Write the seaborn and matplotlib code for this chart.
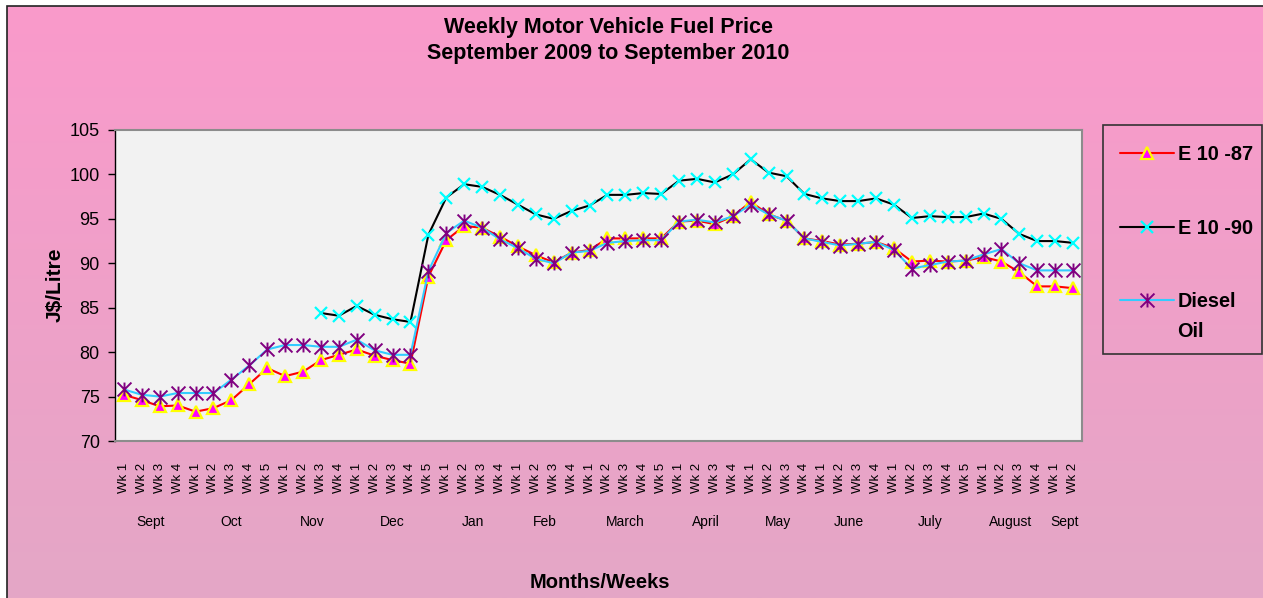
import numpy as np
import pandas as pd
import matplotlib
matplotlib.use("Agg")
import matplotlib.pyplot as plt
import matplotlib.transforms as mtrans
from matplotlib.path import Path
from matplotlib.patches import Rectangle
import seaborn as sns

# months and number of weeks shown for each
months = ["Sept", "Oct", "Nov", "Dec", "Jan", "Feb", "March", "April",
          "May", "June", "July", "August", "Sept"]
weeks_per_month = [4, 5, 4, 5, 4, 4, 5, 4, 4, 4, 5, 4, 2]

# prices in J$/Litre
e10_87 = [75.2, 74.6, 73.9, 74.0, 73.3, 73.7, 74.6, 76.4, 78.2, 77.3, 77.8, 79.1,
          79.7, 80.3, 79.6, 79.1, 78.7, 88.5, 92.6, 94.2, 94.0, 93.0, 91.9, 90.9,
          90.1, 91.2, 91.5, 92.8, 92.8, 92.8, 92.8, 94.7, 94.8, 94.4, 95.3, 96.9,
          95.5, 94.8, 92.8, 92.5, 92.1, 92.2, 92.4, 91.7, 90.2, 90.3, 90.2, 90.3,
          90.7, 90.2, 89.0, 87.4, 87.4, 87.2]
e10_90 = [np.nan] * 11 + [84.4, 84.1, 85.2, 84.2, 83.7, 83.4, 93.2,
          97.4, 98.9, 98.6, 97.7, 96.6, 95.5, 95.0, 95.9, 96.5, 97.7, 97.7, 97.9,
          97.8, 99.3, 99.5, 99.1, 100.0, 101.7,
          100.2, 99.8, 97.8, 97.3, 97.0, 97.0, 97.3, 96.6, 95.1, 95.3, 95.2, 95.2,
          95.6, 95.0, 93.3, 92.5, 92.5, 92.3]
diesel = [75.8, 75.2, 75.0, 75.4, 75.4, 75.4, 76.9, 78.5, 80.3, 80.8, 80.8, 80.6,
          80.6, 81.4, 80.2, 79.7, 79.7, 89.1, 93.4, 94.8, 94.0, 92.7, 91.7, 90.5,
          90.0, 91.2, 91.4, 92.3, 92.5, 92.6, 92.6, 94.7, 94.9, 94.6, 95.3, 96.6,
          95.5, 94.8, 92.8, 92.4, 92.0, 92.2, 92.4, 91.5, 89.4, 89.8, 90.2, 90.3,
          91.0, 91.6, 90.0, 89.2, 89.2, 89.2]

week_labels = [f"Wk {w + 1}" for n in weeks_per_month for w in range(n)]
df = pd.DataFrame({"pos": np.arange(len(week_labels)),
                   "E 10 -87": e10_87, "E 10 -90": e10_90, "Diesel Oil": diesel})

sns.set_style("white")
plt.rcParams["font.family"] = ["Liberation Sans", "DejaVu Sans"]
plt.rcParams["text.color"] = "black"
plt.rcParams["xtick.color"] = "black"
plt.rcParams["ytick.color"] = "black"

W, H = 1263, 598
fig = plt.figure(figsize=(W / 100, H / 100), dpi=100)
fig.patch.set_facecolor("white")

# pink gradient background inside the chart frame
bg = fig.add_axes([0, 0, 1, 1], zorder=-5)
bg.set_xlim(0, 1)
bg.set_ylim(0, 1)
bg.axis("off")
top = np.array([250, 154, 203]) / 255
bot = np.array([228, 167, 198]) / 255
t = np.linspace(0, 1, 256)[:, None]
grad = (top[None, :] * (1 - t) + bot[None, :] * t)[:, None, :]
bg.imshow(grad, aspect="auto", extent=[7 / W, 1, 0, 1 - 6 / H], origin="upper")
bg.add_patch(Rectangle((7 / W, -0.01), 1, 1 - 6 / H + 0.01, fill=False,
                       edgecolor="#222222", lw=1.2))

ax = fig.add_axes([115 / W, 1 - 441 / H, (1082 - 115) / W, (441 - 130) / H])
ax.set_facecolor("#F2F2F2")

star = Path([(-1, -1), (1, 1), (-1, 1), (1, -1), (0, -1), (0, 1)],
            [Path.MOVETO, Path.LINETO, Path.MOVETO, Path.LINETO, Path.MOVETO, Path.LINETO])

sns.lineplot(data=df, x="pos", y="E 10 -87", ax=ax, color="red", lw=1.5,
             marker="^", markersize=9, markerfacecolor="#FF00FF",
             markeredgecolor="#FFFF00", markeredgewidth=1.6, label="E 10 -87")
sns.lineplot(data=df, x="pos", y="E 10 -90", ax=ax, color="black", lw=1.5,
             marker="x", markersize=9, markeredgecolor="#00FFFF",
             markeredgewidth=1.6, label="E 10 -90")
sns.lineplot(data=df, x="pos", y="Diesel Oil", ax=ax, color="#33CCFF", lw=1.5,
             marker=star, markersize=10, markeredgecolor="#800080",
             markerfacecolor="none", markeredgewidth=1.4, label="Diesel")

handles, labels = ax.get_legend_handles_labels()
if ax.get_legend() is not None:
    ax.get_legend().remove()

ax.set_xlim(-0.5, len(week_labels) - 0.5)
ax.set_ylim(70, 105)
ax.set_yticks(range(70, 106, 5))
ax.set_xticks(df["pos"])
ax.set_xticklabels(week_labels, rotation=90, fontsize=9.5)
ax.tick_params(axis="x", length=0, pad=16)
ax.tick_params(axis="y", length=5, width=1, color="black", labelsize=13, pad=6,
               left=True, direction="out")
ax.set_xlabel("")
ax.set_ylabel("")
for s in ["top", "right", "bottom"]:
    ax.spines[s].set_color("#8C8C8C")
    ax.spines[s].set_linewidth(1.5)
ax.spines["left"].set_color("black")
ax.spines["left"].set_linewidth(1)

# month group labels under the weeks
trans = mtrans.blended_transform_factory(ax.transData, fig.transFigure)
start = 0
for m, n in zip(months, weeks_per_month):
    ax.text(start + (n - 1) / 2, 1 - 522 / H, m, transform=trans,
            ha="center", va="center", fontsize=10)
    start += n

fig.text(608 / W, 1 - 28 / H, "Weekly Motor Vehicle Fuel Price", ha="center",
         va="center", fontsize=15.5, fontweight="bold")
fig.text(608 / W, 1 - 54 / H, "September 2009 to September 2010", ha="center",
         va="center", fontsize=15.5, fontweight="bold")
fig.text(600 / W, 1 - 583 / H, "Months/Weeks", ha="center", va="center",
         fontsize=14.5, fontweight="bold")
fig.text(55 / W, 1 - 285 / H, "J$/Litre", ha="center", va="center",
         rotation=90, fontsize=15, fontweight="bold")

# legend box
fig.patches.append(Rectangle((1103 / W, 1 - 354 / H), (1262 - 1103) / W, (354 - 125) / H,
                             transform=fig.transFigure, fill=False,
                             edgecolor="#333333", lw=1.2))
leg = fig.legend(handles, labels, loc="upper left", bbox_to_anchor=(1110 / W, 1 - 135 / H),
                 frameon=False, prop={"weight": "bold", "size": 14.3},
                 handlelength=2.7, handletextpad=0.2, labelspacing=2.75, borderpad=0)

# second line of the Diesel Oil label, placed under "Diesel"
fig.canvas.draw()
bb = leg.get_texts()[2].get_window_extent().transformed(fig.transFigure.inverted())
fig.text(bb.x0, bb.y0 - 30 / H + (bb.y1 - bb.y0) / 2, "Oil", ha="left", va="center",
         fontsize=14.3, fontweight="bold")

fig.savefig("out.png", dpi=100)
